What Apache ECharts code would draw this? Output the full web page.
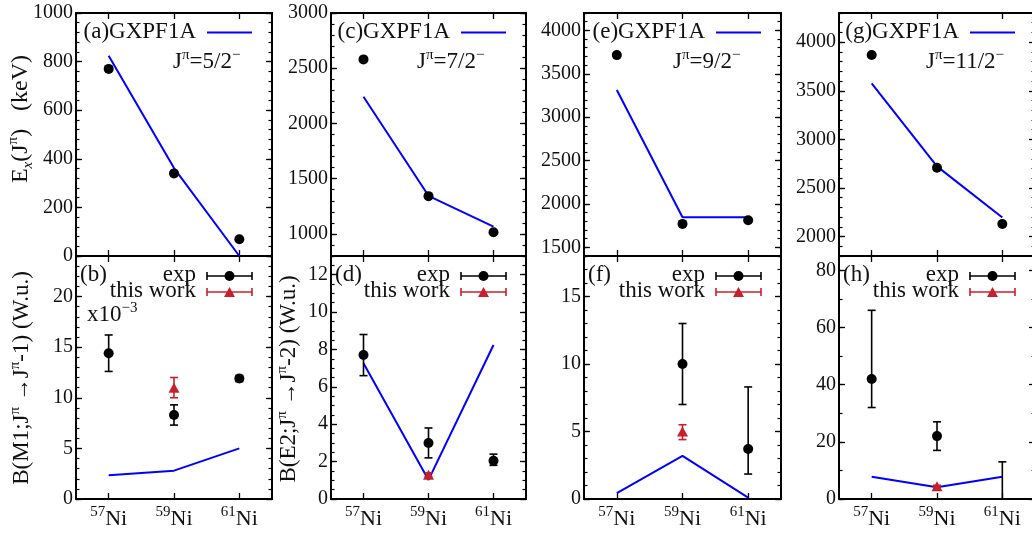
<!DOCTYPE html>
<html><head><meta charset="utf-8">
<script src="https://cdn.jsdelivr.net/npm/echarts@6/dist/echarts.min.js"></script>
<style>html,body{margin:0;padding:0;background:#fff}#c{width:1032px;height:534px}</style>
</head><body><div id="c"></div>
<script>
// ---------- data ----------
const nuclei = ['57', '59', '61'];

// Upper panels: excitation energy E_x (keV)
const expA = [770, 340, 69];      const thA = [824, 362, 0];
const expC = [2580, 1342, 1015];  const thC = [2242, 1345, 1066];
const expE = [3715, 1770, 1812];  const thE = [3312, 1846, 1846];
const expG = [3868, 2708, 2130];  const thG = [3576, 2722, 2196];

// Lower panels: transition strengths (W.u.)
const expB = [14.4, 8.3, 11.9];   const errB = [[12.6, 16.2], [7.3, 9.3], [11.6, 12.2]];
const twB = [null, 11.0, null];   const twErrB = [null, [10.0, 12.0], null];
const thB = [2.34, 2.8, 5.0];

const expD = [7.7, 3.0, 2.05];    const errD = [[6.6, 8.8], [2.2, 3.8], [1.8, 2.4]];
const twD = [null, 1.3, null];    const twErrD = [null, [1.2, 1.4], null];
const thD = [7.26, 1.02, 8.24];

const expF = [null, 10.0, 3.7];   const errF = [null, [7.0, 13.0], [1.85, 8.3]];
const twF = [null, 5.0, null];    const twErrF = [null, [4.4, 5.5], null];
const thF = [0.43, 3.2, 0.1];

const expH = [42, 22, null];      const errH = [[32, 66], [17, 27], [0, 13]];
const twH = [null, 4.5, null];    const twErrH = [null, [4.2, 4.8], null];
const thH = [7.8, 4.1, 7.8];

// tick labels
const ticksA = [0, 200, 400, 600, 800, 1000];
const ticksC = [1000, 1500, 2000, 2500, 3000];
const ticksE = [1500, 2000, 2500, 3000, 3500, 4000];
const ticksG = [2000, 2500, 3000, 3500, 4000];
const ticksB = [0, 5, 10, 15, 20];
const ticksD = [0, 2, 4, 6, 8, 10, 12];
const ticksF = [0, 5, 10, 15];
const ticksH = [0, 20, 40, 60, 80];

const tagsUpper = ['(a)', '(c)', '(e)', '(g)'];
const tagsLower = ['(b)', '(d)', '(f)', '(h)'];
const spins = ['5/2', '7/2', '9/2', '11/2'];

// ---------- layout ----------
const FONT = 'Liberation Serif';
const INK = '#111';
const BLUE = '#0000ff';
const RED = '#c8202b';
const cols = [{ l: 76, w: 196 }, { l: 331, w: 195 }, { l: 584, w: 197 }, { l: 839, w: 196 }];
const rows = [{ t: 13, h: 243 }, { t: 256, h: 243 }];

const panels = [
  { c: 0, r: 0, min: 0, max: 1000, major: ticksA, minor: 40, exp: expA, th: thA },
  { c: 1, r: 0, min: 800, max: 3000, major: ticksC, minor: 100, exp: expC, th: thC },
  { c: 2, r: 0, min: 1400, max: 4200, major: ticksE, minor: 100, exp: expE, th: thE },
  { c: 3, r: 0, min: 1800, max: 4300, major: ticksG, minor: 100, exp: expG, th: thG },
  { c: 0, r: 1, min: 0, max: 24, major: ticksB, minor: 1, exp: expB, err: errB, tw: twB, twErr: twErrB, th: thB },
  { c: 1, r: 1, min: 0, max: 13, major: ticksD, minor: 0.5, exp: expD, err: errD, tw: twD, twErr: twErrD, th: thD },
  { c: 2, r: 1, min: 0, max: 18, major: ticksF, minor: 1, exp: expF, err: errF, tw: twF, twErr: twErrF, th: thF },
  { c: 3, r: 1, min: 0, max: 85, major: ticksH, minor: 10, exp: expH, err: errH, tw: twH, twErr: twErrH, th: thH }
];

function steps(min, max, step) {
  const out = [];
  for (let v = Math.ceil(min / step) * step; v <= max + 1e-9; v += step) out.push(Math.round(v * 1000) / 1000);
  return out;
}

const lineStyleFrame = { color: '#000', width: 2 };
const grid = [], xAxis = [], yAxis = [], series = [];

const xRich = {
  s: { fontSize: 15, fontFamily: FONT, color: INK, verticalAlign: 'top', lineHeight: 28 },
  n: { fontSize: 22, fontFamily: FONT, color: INK, lineHeight: 28 }
};

function errSeries(i, err, color) {
  return {
    type: 'custom', xAxisIndex: 2 * i, yAxisIndex: 4 * i, z: 3, clip: true, silent: true,
    encode: { x: 0, y: [1, 2] },
    data: err.map((e, k) => e ? [k, e[0], e[1]] : null).filter(Boolean),
    renderItem: (params, api) => {
      const x = api.value(0);
      const p1 = api.coord([x, api.value(1)]);
      const p2 = api.coord([x, api.value(2)]);
      const hw = 4;
      const st = { stroke: color, lineWidth: 1.6 };
      return {
        type: 'group', children: [
          { type: 'line', shape: { x1: p1[0], y1: p1[1], x2: p2[0], y2: p2[1] }, style: st },
          { type: 'line', shape: { x1: p1[0] - hw, y1: p1[1], x2: p1[0] + hw, y2: p1[1] }, style: st },
          { type: 'line', shape: { x1: p2[0] - hw, y1: p2[1], x2: p2[0] + hw, y2: p2[1] }, style: st }
        ]
      };
    }
  };
}

panels.forEach((p, i) => {
  const col = cols[p.c], row = rows[p.r];
  grid.push({ left: col.l, top: row.t, width: col.w, height: row.h, containLabel: false, outerBoundsMode: 'none' });
  const xCommon = {
    gridIndex: i, type: 'category', data: nuclei, boundaryGap: true,
    axisLine: { show: true, onZero: false, lineStyle: lineStyleFrame },
    axisTick: { show: true, inside: true, alignWithLabel: true, interval: 0, length: 6, lineStyle: { color: '#000', width: 1.3 } },
    splitLine: { show: false }
  };
  xAxis.push(Object.assign({}, xCommon, {
    position: 'bottom',
    axisLabel: { show: p.r === 1, interval: 0, hideOverlap: false, margin: 6, formatter: v => `{s|${v}}{n|Ni}`, rich: xRich }
  }));
  xAxis.push(Object.assign({}, xCommon, { position: 'top', axisLabel: { show: false } }));

  const minors = steps(p.min, p.max, p.minor);
  const yBase = { gridIndex: i, type: 'value', min: p.min, max: p.max, splitLine: { show: false } };
  ['left', 'right'].forEach(pos => {
    yAxis.push(Object.assign({}, yBase, {
      position: pos,
      axisLine: { show: true, onZero: false, lineStyle: lineStyleFrame },
      axisTick: { show: true, inside: true, length: 6, customValues: p.major, lineStyle: { color: '#000', width: 1.3 } },
      axisLabel: pos === 'left'
        ? { show: true, customValues: p.major, formatter: v => String(v), margin: 3, fontSize: 20, fontFamily: FONT, color: INK }
        : { show: false }
    }));
    yAxis.push(Object.assign({}, yBase, {
      position: pos,
      axisLine: { show: true, onZero: false, lineStyle: { color: '#000', width: 0 } },
      axisTick: { show: true, inside: true, length: 3.5, customValues: minors, lineStyle: { color: '#000', width: 1.2 } },
      axisLabel: { show: false, customValues: minors }
    }));
  });

  // GXPF1A line
  series.push({
    type: 'line', xAxisIndex: 2 * i, yAxisIndex: 4 * i, data: p.th, z: 2,
    symbol: 'none', showSymbol: false, silent: true,
    lineStyle: { color: BLUE, width: 2 }
  });
  if (p.err) series.push(errSeries(i, p.err, '#000'));
  series.push({
    type: 'scatter', xAxisIndex: 2 * i, yAxisIndex: 4 * i, z: 4, silent: true,
    symbol: 'circle', symbolSize: 10, itemStyle: { color: '#000', opacity: 1 },
    data: p.exp.map((v, k) => v == null ? null : [k, v]).filter(Boolean)
  });
  if (p.tw) {
    series.push(errSeries(i, p.twErr, RED));
    series.push({
      type: 'scatter', xAxisIndex: 2 * i, yAxisIndex: 4 * i, z: 5, silent: true,
      symbol: 'triangle', symbolSize: [11, 10], itemStyle: { color: RED, opacity: 1 },
      data: p.tw.map((v, k) => v == null ? null : [k, v]).filter(Boolean)
    });
  }
});

// ---------- texts & legends ----------
const richBase = {
  n: { fontSize: 23, fontFamily: FONT, fill: INK, lineHeight: 28 },
  t: { fontSize: 24, fontFamily: FONT, fill: INK, lineHeight: 30 },
  sup: { fontSize: 15, fontFamily: FONT, fill: INK, verticalAlign: 'top' },
  sub: { fontSize: 15, fontFamily: FONT, fill: INK, verticalAlign: 'bottom', fontStyle: 'italic' }
};
function txt(x, y, text, align, extra) {
  return Object.assign({
    type: 'text', x: x, y: y, silent: true,
    style: { text: text, align: align, verticalAlign: 'middle', textAlign: align, textVerticalAlign: 'middle',
      fontSize: 23, fontFamily: FONT, fill: INK, rich: richBase }
  }, extra || {});
}
function seg(x1, y1, x2, y2, color, w) {
  return { type: 'line', silent: true, shape: { x1, y1, x2, y2 }, style: { stroke: color, lineWidth: w } };
}
const jx = [173, 417, 673, 926];
const graphic = [];
cols.forEach((col, k) => {
  const R = col.l + col.w;
  // upper
  graphic.push(txt(R - 76, 32, '{n|' + tagsUpper[k] + 'GXPF1A}', 'right'));
  graphic.push(seg(R - 65, 32.5, R - 20, 32.5, BLUE, 2));
  graphic.push(txt(jx[k], 62, '{n|J}{sup|π}{n|=' + spins[k] + '}{sup|−}', 'left'));
  // lower
  graphic.push(txt(col.l + 4, 275, '{n|' + tagsLower[k] + '}', 'left'));
  graphic.push(txt(R - 76, 275, '{n|exp}', 'right'));
  graphic.push(txt(R - 76, 291, '{n|this work}', 'right'));
  const yA = 276, yB = 292, xs = R - 65, xe = R - 20, xm = (xs + xe) / 2;
  graphic.push(seg(xs, yA, xe, yA, '#000', 1.6));
  graphic.push(seg(xs, yA - 4, xs, yA + 4, '#000', 1.6));
  graphic.push(seg(xe, yA - 4, xe, yA + 4, '#000', 1.6));
  graphic.push({ type: 'circle', silent: true, shape: { cx: xm, cy: yA, r: 5 }, style: { fill: '#000' } });
  graphic.push(seg(xs, yB, xe, yB, RED, 1.6));
  graphic.push(seg(xs, yB - 4, xs, yB + 4, RED, 1.6));
  graphic.push(seg(xe, yB - 4, xe, yB + 4, RED, 1.6));
  graphic.push({ type: 'polygon', silent: true, shape: { points: [[xm, yB - 5], [xm + 5.5, yB + 5], [xm - 5.5, yB + 5]] }, style: { fill: RED } });
});
graphic.push(txt(cols[0].l + 11, 315, '{n|x10}{sup|−3}', 'left'));
// y-axis titles
graphic.push(txt(21, 119, '{t|E}{sub|x}{t|(J}{sup|π}{t|)   (keV)}', 'center', { rotation: Math.PI / 2 }));
graphic.push(txt(22, 378, '{n|B(M1;J}{sup|π}{n| →J}{sup|π}{n|-1) (W.u.)}', 'center', { rotation: Math.PI / 2 }));
graphic.push(txt(289, 379, '{n|B(E2;J}{sup|π}{n| →J}{sup|π}{n|-2) (W.u.)}', 'center', { rotation: Math.PI / 2 }));

const chart = echarts.init(document.getElementById('c'), null, { renderer: 'canvas' });
chart.setOption({
  animation: false,
  backgroundColor: '#fff',
  grid, xAxis, yAxis, series, graphic
});
</script>
</body></html>
